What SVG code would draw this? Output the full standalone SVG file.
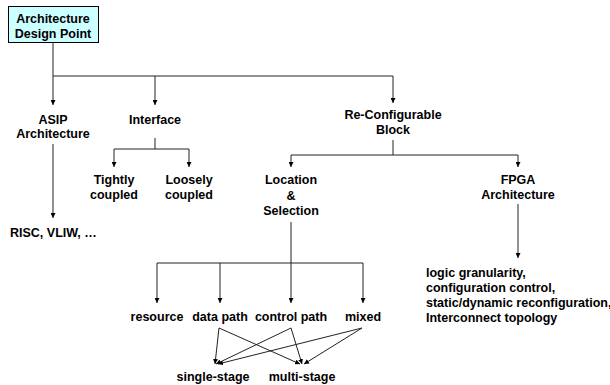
<svg xmlns="http://www.w3.org/2000/svg" width="610" height="385" viewBox="0 0 610 385">
<style>
text{font-family:"Liberation Sans",Arial,sans-serif;font-weight:bold;font-size:12.5px;fill:#000;text-anchor:middle}
.l{text-anchor:start}
.c{fill:none;stroke:#222;stroke-width:1}
</style>
<defs>
<marker id="a" viewBox="0 0 5 5" refX="5" refY="2.5" markerWidth="5" markerHeight="5" orient="auto" markerUnits="userSpaceOnUse">
<path d="M0,0 L5,2.5 L0,5 z" fill="#000"/>
</marker>
</defs>
<rect width="610" height="385" fill="#fff"/>
<g id="connectors">
<path class="c" d="M53,43 V76 H393 V103" marker-end="url(#a)"/>
<path class="c" d="M53,76 V105" marker-end="url(#a)"/>
<path class="c" d="M155,76 V105" marker-end="url(#a)"/>
<path class="c" d="M53,144 V218" marker-end="url(#a)"/>
<path class="c" d="M155,138 V149 H114 V167" marker-end="url(#a)"/>
<path class="c" d="M155,149 H189 V167" marker-end="url(#a)"/>
<path class="c" d="M393,140 V155 H291 V167" marker-end="url(#a)"/>
<path class="c" d="M393,155 H518 V167" marker-end="url(#a)"/>
<path class="c" d="M518,204 V258" marker-end="url(#a)"/>
<path class="c" d="M291,222 V263 H157 V303" marker-end="url(#a)"/>
<path class="c" d="M220,263 V303" marker-end="url(#a)"/>
<path class="c" d="M291,263 V303" marker-end="url(#a)"/>
<path class="c" d="M291,263 H363 V303" marker-end="url(#a)"/>
<path class="c" d="M219,328 L215,364" marker-end="url(#a)"/>
<path class="c" d="M219,328 L300,364" marker-end="url(#a)"/>
<path class="c" d="M291,328 L216,364" marker-end="url(#a)"/>
<path class="c" d="M291,328 L302,364" marker-end="url(#a)"/>
<path class="c" d="M362,328 L218,364" marker-end="url(#a)"/>
<path class="c" d="M362,328 L304,364" marker-end="url(#a)"/>
</g>
<g id="root">
<rect x="8.5" y="6.5" width="90" height="36" fill="#ccffff" stroke="#000" stroke-width="1"/>
<text x="53" y="23">Architecture</text>
<text x="53" y="38">Design Point</text>
</g>
<g id="asip"><text x="53" y="124">ASIP</text><text x="53" y="138">Architecture</text></g>
<g id="interface"><text x="155" y="124">Interface</text></g>
<g id="reconf"><text x="393" y="119">Re-Configurable</text><text x="393" y="134">Block</text></g>
<g id="tightly"><text x="114" y="184">Tightly</text><text x="114" y="199">coupled</text></g>
<g id="loosely"><text x="189" y="184">Loosely</text><text x="189" y="199">coupled</text></g>
<g id="location"><text x="291" y="184">Location</text><text x="291" y="200">&amp;</text><text x="291" y="215">Selection</text></g>
<g id="fpga"><text x="518" y="184">FPGA</text><text x="518" y="199">Architecture</text></g>
<g id="risc"><text class="l" x="10" y="237">RISC, VLIW, …</text></g>
<g id="fpgadetails">
<text class="l" x="426" y="277">logic granularity,</text>
<text class="l" x="426" y="292">configuration control,</text>
<text class="l" x="426" y="307">static/dynamic reconfiguration,</text>
<text class="l" x="426" y="322">Interconnect topology</text>
</g>
<g id="resource"><text x="157" y="321">resource</text></g>
<g id="datapath"><text x="220" y="321">data path</text></g>
<g id="controlpath"><text x="291" y="321">control path</text></g>
<g id="mixed"><text x="363" y="321">mixed</text></g>
<g id="single"><text x="213" y="381">single-stage</text></g>
<g id="multi"><text x="302" y="381">multi-stage</text></g>
</svg>
